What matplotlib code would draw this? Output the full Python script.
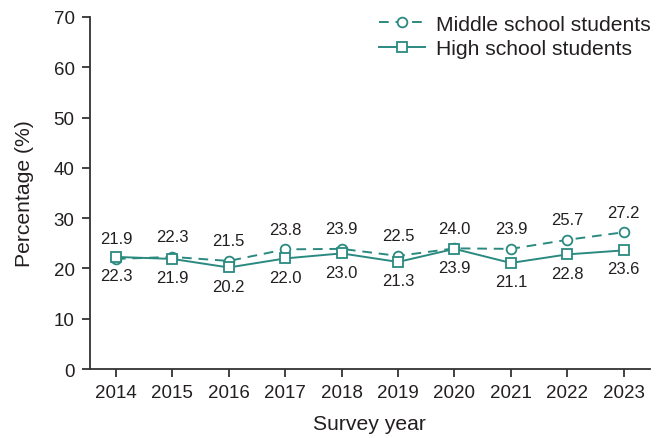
import matplotlib
matplotlib.use("Agg")
import matplotlib.pyplot as plt

years = [2014, 2015, 2016, 2017, 2018, 2019, 2020, 2021, 2022, 2023]
middle = [21.9, 22.3, 21.5, 23.8, 23.9, 22.5, 24.0, 23.9, 25.7, 27.2]
high = [22.3, 21.9, 20.2, 22.0, 23.0, 21.3, 23.9, 21.1, 22.8, 23.6]
yticks = [0, 10, 20, 30, 40, 50, 60, 70]

plt.rcParams['font.family'] = ['Liberation Sans', 'DejaVu Sans']
color = '#2a8a80'
textc = '#231f20'

fig = plt.figure(figsize=(6.65, 4.39), dpi=100)
ax = fig.add_axes([0.1353, 0.157, 0.977 - 0.1353, 0.959 - 0.157])

ax.plot(years, middle, linestyle=(0, (5, 3.5)), color=color, lw=1.4, marker='o',
        markersize=7, markerfacecolor='white', markeredgecolor=color, markeredgewidth=1.3,
        label='Middle school students')
ax.plot(years, high, linestyle='-', color=color, lw=1.4, marker='s',
        markersize=6.5, markerfacecolor='white', markeredgecolor=color, markeredgewidth=1.3,
        label='High school students')

for x, y in zip(years, middle):
    ax.annotate(f"{y:.1f}", (x, y), xytext=(0, 9), textcoords='offset points',
                ha='center', va='bottom', fontsize=12, color=textc)
for x, y in zip(years, high):
    ax.annotate(f"{y:.1f}", (x, y), xytext=(0, -8), textcoords='offset points',
                ha='center', va='top', fontsize=12, color=textc)

ax.set_xlim(2013.54, 2023.46)
ax.set_ylim(0, 70)
ax.set_yticks(yticks)
ax.set_xticks(years)
ax.set_xticklabels([str(y) for y in years])
for s in ['top', 'right']:
    ax.spines[s].set_visible(False)
for s in ['left', 'bottom']:
    ax.spines[s].set_color('#333333')
    ax.spines[s].set_linewidth(1.3)
ax.tick_params(axis='both', direction='out', length=6, width=1.3, color='#333333',
               labelsize=13.5, labelcolor=textc, pad=5)
ax.set_xlabel('Survey year', fontsize=15.2, color=textc, labelpad=9)
ax.set_ylabel('Percentage (%)', fontsize=15.2, color=textc, labelpad=14)

ax.legend(loc='upper right', bbox_to_anchor=(1.035, 1.06), frameon=False, fontsize=15.2,
          handlelength=2.2, handletextpad=0.5, labelspacing=0.25, labelcolor=textc)

fig.savefig('out.png', dpi=100)
